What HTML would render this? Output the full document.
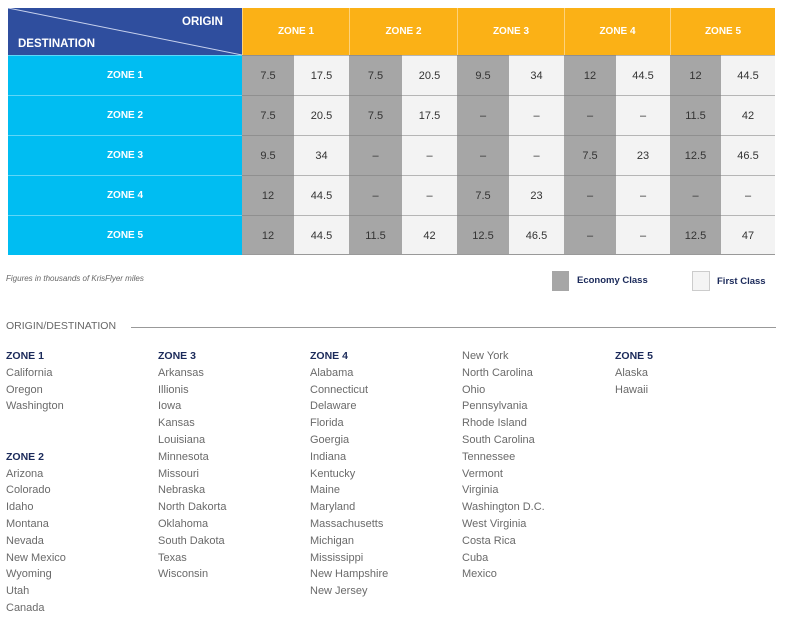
<!DOCTYPE html>
<html><head><meta charset="utf-8"><style>
body{margin:0;width:786px;height:632px;background:#fff;font-family:"Liberation Sans",sans-serif;position:relative;overflow:hidden}
.a{position:absolute;box-sizing:border-box}
.c{display:flex;align-items:center;justify-content:center}
.h{color:#fff;font-weight:bold;font-size:10px}
.v{font-size:11px;color:#333}
.col div{font-size:11px;color:#6a6a6a;height:16.8px;line-height:16.8px;white-space:nowrap}
.col div.z{color:#1b2a5a;font-weight:bold;font-size:10.5px}
</style></head><body>
<div class="a" style="left:8px;top:8px;width:234px;height:47px;background:#2f4e9e">
<svg width="234" height="47" style="position:absolute;left:0;top:0"><line x1="0" y1="0" x2="234" y2="47" stroke="#c8d2ee" stroke-width="1"/></svg>
<span class="a h" style="left:174px;top:8px;font-size:11.5px">ORIGIN</span>
<span class="a h" style="left:10px;top:30px;font-size:11.5px">DESTINATION</span>
</div>
<div id="tbl"></div>
<div class="a" style="left:6px;top:274px;font-size:8px;font-style:italic;color:#666">Figures in thousands of KrisFlyer miles</div>
<div class="a" style="left:552px;top:271px;width:17px;height:20px;background:#a6a6a6"></div>
<div class="a" style="left:577px;top:275px;font-size:9.5px;font-weight:bold;color:#1b2a5a">Economy Class</div>
<div class="a" style="left:692px;top:271px;width:18px;height:20px;background:#f4f4f4;border:1px solid #ccc"></div>
<div class="a" style="left:717px;top:276px;font-size:9.5px;font-weight:bold;color:#1b2a5a">First Class</div>
<div class="a" style="left:6px;top:320px;font-size:10.5px;color:#666">ORIGIN/DESTINATION</div>
<div class="a" style="left:131px;top:327px;width:645px;height:1px;background:#999"></div>
<div id="lists"></div>
<script>
var origins=["ZONE 1","ZONE 2","ZONE 3","ZONE 4","ZONE 5"];
var dests=["ZONE 1","ZONE 2","ZONE 3","ZONE 4","ZONE 5"];
var economy=[["7.5","7.5","9.5","12","12"],["7.5","7.5","–","–","11.5"],["9.5","–","–","7.5","12.5"],["12","–","7.5","–","–"],["12","11.5","12.5","–","12.5"]];
var first=[["17.5","20.5","34","44.5","44.5"],["20.5","17.5","–","–","42"],["34","–","–","23","46.5"],["44.5","–","23","–","–"],["44.5","42","46.5","–","47"]];
var colX=[242,349,457,564,670,775];
var T=document.getElementById('tbl');
function mk(parent,cls,st,txt){var d=document.createElement('div');d.className=cls;d.style.cssText=st;if(txt!==undefined)d.textContent=txt;parent.appendChild(d);return d;}
for(var j=0;j<origins.length;j++){
 var w=colX[j+1]-colX[j];
 var e=mk(T,'a c h','left:'+colX[j]+'px;top:8px;width:'+w+'px;height:47px;background:#fbb116;border-left:1px solid #fdd27a',origins[j]);
 
 
}
for(var i=0;i<dests.length;i++){
 var y=55+i*40;
 var r=mk(T,'a c h','left:8px;top:'+y+'px;width:234px;height:40px;background:#00bdf2;border-top:1px solid #5fd6f7',dests[i]);
 
 
 for(var j=0;j<origins.length;j++){
  var x=colX[j],w=colX[j+1]-colX[j],ew=Math.round(w*0.49);
  var c1=mk(T,'a c v','left:'+x+'px;top:'+y+'px;width:'+ew+'px;height:40px;background:#a6a6a6;border-top:1px solid #8f8f8f',economy[i][j]);
  
  
  var c2=mk(T,'a c v','left:'+(x+ew)+'px;top:'+y+'px;width:'+(w-ew)+'px;height:40px;background:#f3f3f3;border-top:1px solid #b5b5b5',first[i][j]);
  
  
 }
}
var bl=mk(T,'a','left:242px;top:254px;width:533px;height:1px;background:#999');


var cols=[
 ["#ZONE 1","California","Oregon","Washington","","","#ZONE 2","Arizona","Colorado","Idaho","Montana","Nevada","New Mexico","Wyoming","Utah","Canada"],
 ["#ZONE 3","Arkansas","Illionis","Iowa","Kansas","Louisiana","Minnesota","Missouri","Nebraska","North Dakorta","Oklahoma","South Dakota","Texas","Wisconsin"],
 ["#ZONE 4","Alabama","Connecticut","Delaware","Florida","Goergia","Indiana","Kentucky","Maine","Maryland","Massachusetts","Michigan","Mississippi","New Hampshire","New Jersey"],
 ["New York","North Carolina","Ohio","Pennsylvania","Rhode Island","South Carolina","Tennessee","Vermont","Virginia","Washington D.C.","West Virginia","Costa Rica","Cuba","Mexico"],
 ["#ZONE 5","Alaska","Hawaii"]];
var listX=[6,158,310,462,615];
var L=document.getElementById('lists');
for(var k=0;k<cols.length;k++){
 var col=mk(L,'a col','left:'+listX[k]+'px;top:348px');
 
 
 cols[k].forEach(function(t){
  var isZ=t.charAt(0)=='#';
  var d=mk(col,isZ?'z':'',(k==0&&t=='')?'height:16.8px':'',isZ?t.slice(1):t);
  
  
 });
}
</script>
</body></html>
